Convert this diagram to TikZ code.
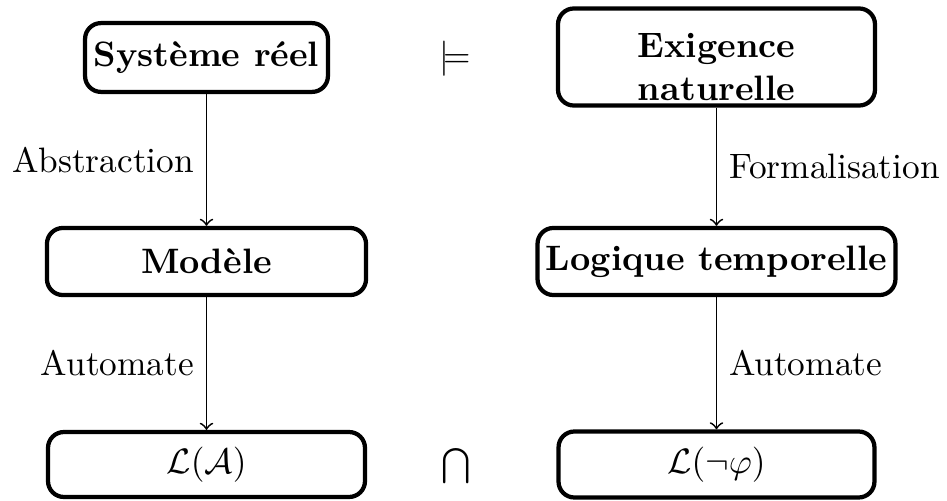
\documentclass[tikz,border=0pt]{standalone}
\usepackage{fontspec}
\usepackage{amssymb}
\begin{document}
\begin{tikzpicture}[x=0.2833pt,y=-0.2833pt,
  boxnode/.style={draw, line width=1.2pt, rounded corners=4.5pt, font=\bfseries, align=center, inner sep=0pt},
  mathbox/.style={boxnode, font=\normalfont},
  flow/.style={->, line width=0.5pt},
  sym/.style={inner sep=0pt}]
\useasboundingbox (0,0) rectangle (947,501);
% left column
\node[boxnode, minimum width=68.8pt, minimum height=19.5pt] (sys) at (206.5,57.5) {Système réel};
\node[boxnode, minimum width=90.4pt, minimum height=19pt] (mod) at (206.5,261.5) {Modèle};
\node[mathbox, minimum width=89.8pt, minimum height=18.4pt] (la) at (206.5,464.5) {$\mathcal{L}(\mathcal{A})$};
% right column
\node[boxnode, minimum width=89.8pt, minimum height=27.5pt] (exi) at (716.5,57) {};
\node[font=\bfseries, align=center, inner sep=0pt] (exitext) at (716.5,67) {Exigence\\naturelle};
\node[boxnode, minimum width=101.4pt, minimum height=19pt] (log) at (716.5,261.5) {Logique temporelle};
\node[mathbox, minimum width=89.5pt, minimum height=18.7pt] (lphi) at (716.5,464.5) {$\mathcal{L}(\neg\varphi)$};
% relations
\node[sym] (models) at (455,59) {$\models$};
\node[sym] (inter) at (456,466) {$\bigcap$};
% arrows
\draw[flow] (sys) -- (mod) node[midway, left] {Abstraction};
\draw[flow] (mod) -- (la) node[midway, left] {Automate};
\draw[flow] (exi) -- (log) node[midway, right] {Formalisation};
\draw[flow] (log) -- (lphi) node[midway, right] {Automate};
\end{tikzpicture}
\end{document}
